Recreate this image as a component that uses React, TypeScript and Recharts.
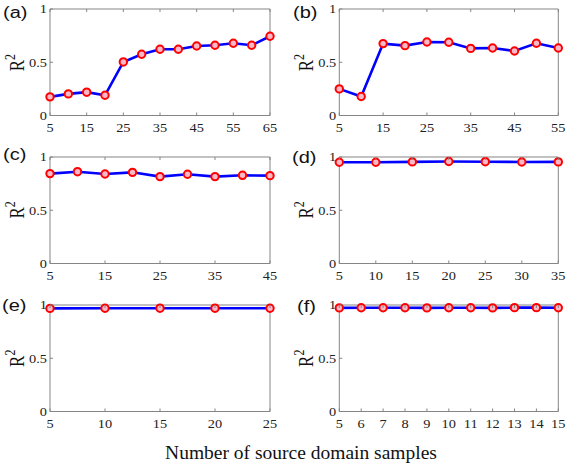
import React from 'react';
import { LineChart, Line, XAxis, YAxis } from 'recharts';

// ---------- data ----------
const aX = [5, 10, 15, 20, 25, 30, 35, 40, 45, 50, 55, 60, 65];
const aY = [0.175, 0.203, 0.219, 0.19, 0.503, 0.575, 0.622, 0.622, 0.653, 0.66, 0.678, 0.66, 0.744];
const aTicks = [5, 15, 25, 35, 45, 55, 65];

const bX = [5, 10, 15, 20, 25, 30, 35, 40, 45, 50, 55];
const bY = [0.25, 0.178, 0.675, 0.656, 0.69, 0.688, 0.63, 0.634, 0.606, 0.678, 0.634];
const bTicks = [5, 15, 25, 35, 45, 55];

const cX = [5, 10, 15, 20, 25, 30, 35, 40, 45];
const cY = [0.844, 0.862, 0.84, 0.856, 0.816, 0.838, 0.816, 0.828, 0.825];
const cTicks = [5, 15, 25, 35, 45];

const dX = [5, 10, 15, 20, 25, 30, 35];
const dY = [0.951, 0.951, 0.954, 0.958, 0.956, 0.953, 0.954];
const dTicks = [5, 10, 15, 20, 25, 30, 35];

const eX = [5, 10, 15, 20, 25];
const eY = [0.968, 0.969, 0.97, 0.97, 0.969];
const eTicks = [5, 10, 15, 20, 25];

const fX = [5, 6, 7, 8, 9, 10, 11, 12, 13, 14, 15];
const fY = [0.973, 0.974, 0.974, 0.974, 0.973, 0.974, 0.974, 0.973, 0.975, 0.975, 0.974];
const fTicks = [5, 6, 7, 8, 9, 10, 11, 12, 13, 14, 15];

const yTicks = [0, 0.5, 1];
const yTickLabels = ['0', '0.5', '1'];

const panelLabels = ['(a)', '(b)', '(c)', '(d)', '(e)', '(f)'];
const yAxisTitle = 'R';
const yAxisTitleSup = '2';
const xAxisTitle = 'Number of source domain samples';

// ---------- style ----------
const FRAME = '#858585';
const SERIF = "'Liberation Serif', 'Times New Roman', serif";
const SANS = "'Liberation Sans', Arial, sans-serif";
const SX = 1.15;
const TICK = 3;

const BottomTick = (props: any) => {
  const { x, y, payload } = props;
  return (
    <g>
      <line x1={x} x2={x} y1={y} y2={y - TICK} stroke={FRAME} strokeWidth={1} />
      <text
        transform={`translate(${x},${y + 16}) scale(${SX},1)`}
        textAnchor="middle"
        fontFamily={SERIF}
        fontSize={12.5}
        fill="#222"
      >
        {payload.value}
      </text>
    </g>
  );
};

const TopTick = (props: any) => {
  const { x, y } = props;
  return <line x1={x} x2={x} y1={y} y2={y + TICK} stroke={FRAME} strokeWidth={1} />;
};

const LeftTick = (props: any) => {
  const { x, y, payload } = props;
  const idx = yTicks.indexOf(payload.value);
  const label = idx >= 0 ? yTickLabels[idx] : String(payload.value);
  return (
    <g>
      <line x1={x} x2={x + TICK} y1={y} y2={y} stroke={FRAME} strokeWidth={1} />
      <text
        transform={`translate(${x - 3},${y + 4.3}) scale(${SX},1)`}
        textAnchor="end"
        fontFamily={SERIF}
        fontSize={12.5}
        fill="#222"
      >
        {label}
      </text>
    </g>
  );
};

const RightTick = (props: any) => {
  const { x, y } = props;
  return <line x1={x} x2={x - TICK} y1={y} y2={y} stroke={FRAME} strokeWidth={1} />;
};

type PanelProps = {
  left: number;
  top: number;
  width: number;
  mLeft: number;
  mRight: number;
  xs: number[];
  ys: number[];
  xTicks: number[];
};

function Panel({ left, top, width, mLeft, mRight, xs, ys, xTicks }: PanelProps) {
  const data = xs.map((x, i) => ({ x, y: ys[i] }));
  const xDomain = [xTicks[0], xTicks[xTicks.length - 1]];
  return (
    <div style={{ position: 'absolute', left, top }}>
      <LineChart
        width={width}
        height={140}
        data={data}
        margin={{ top: 8, right: mRight, bottom: 0.5, left: mLeft }}
      >
        <XAxis
          xAxisId="b"
          dataKey="x"
          type="number"
          domain={xDomain}
          ticks={xTicks}
          interval={0}
          height={24}
          tickSize={0}
          tickMargin={0}
          tickLine={false}
          axisLine={{ stroke: FRAME, strokeWidth: 1 }}
          tick={<BottomTick />}
        />
        <XAxis
          xAxisId="t"
          orientation="top"
          dataKey="x"
          type="number"
          domain={xDomain}
          ticks={xTicks}
          interval={0}
          height={1}
          tickSize={0}
          tickMargin={0}
          tickLine={false}
          axisLine={{ stroke: FRAME, strokeWidth: 1 }}
          tick={<TopTick />}
        />
        <YAxis
          yAxisId="l"
          type="number"
          domain={[0, 1]}
          ticks={yTicks}
          interval={0}
          width={40}
          tickSize={0}
          tickMargin={0}
          tickLine={false}
          axisLine={{ stroke: FRAME, strokeWidth: 1 }}
          tick={<LeftTick />}
        />
        <YAxis
          yAxisId="r"
          orientation="right"
          type="number"
          domain={[0, 1]}
          ticks={yTicks}
          interval={0}
          width={1}
          tickSize={0}
          tickMargin={0}
          tickLine={false}
          axisLine={{ stroke: FRAME, strokeWidth: 1 }}
          tick={<RightTick />}
        />
        <Line
          xAxisId="b"
          yAxisId="l"
          type="linear"
          dataKey="y"
          stroke="#0000ff"
          strokeWidth={2.6}
          dot={{ r: 3.7, fill: '#f9b9c8', stroke: '#ff0000', strokeWidth: 2 }}
          activeDot={false}
          isAnimationActive={false}
        />
      </LineChart>
    </div>
  );
}

// plot geometry
const LEFT_COL = { left: 0, width: 285, mLeft: 10, mRight: 14, plotLeft: 50 };
const RIGHT_COL = { left: 290, width: 277, mLeft: 9.3, mRight: 7.7, plotLeft: 339.3 };
const ROW_TOPS = [9.3, 156.7, 305];
const PLOT_H = 106.5;

const labelPos = [
  { x: 3, y: 18.3 },
  { x: 293, y: 18.3 },
  { x: 3, y: 160 },
  { x: 292, y: 163 },
  { x: 2, y: 311 },
  { x: 297, y: 312 },
];

export default function App() {
  const panels = [
    { col: LEFT_COL, row: 0, xs: aX, ys: aY, ticks: aTicks },
    { col: RIGHT_COL, row: 0, xs: bX, ys: bY, ticks: bTicks },
    { col: LEFT_COL, row: 1, xs: cX, ys: cY, ticks: cTicks },
    { col: RIGHT_COL, row: 1, xs: dX, ys: dY, ticks: dTicks },
    { col: LEFT_COL, row: 2, xs: eX, ys: eY, ticks: eTicks },
    { col: RIGHT_COL, row: 2, xs: fX, ys: fY, ticks: fTicks },
  ];
  return (
    <div
      style={{
        position: 'absolute',
        left: 0,
        top: 0,
        width: 567,
        height: 467,
        background: '#fff',
        overflow: 'hidden',
      }}
    >
      {panels.map((p, i) => (
        <Panel
          key={i}
          left={p.col.left}
          top={ROW_TOPS[p.row] - 9}
          width={p.col.width}
          mLeft={p.col.mLeft}
          mRight={p.col.mRight}
          xs={p.xs}
          ys={p.ys}
          xTicks={p.ticks}
        />
      ))}
      <svg
        width={567}
        height={467}
        style={{ position: 'absolute', left: 0, top: 0, pointerEvents: 'none' }}
      >
        {panels.map((p, i) => (
          <text
            key={'l' + i}
            transform={`translate(${labelPos[i].x},${labelPos[i].y}) scale(1.25,1)`}
            fontFamily={SANS}
            fontSize={16}
            fill="#111"
          >
            {panelLabels[i]}
          </text>
        ))}
        {panels.map((p, i) => (
          <text
            key={'r' + i}
            transform={`translate(${p.col.plotLeft - 26},${ROW_TOPS[p.row] + PLOT_H / 2}) scale(1.2,1) rotate(-90)`}
            textAnchor="middle"
            fontFamily={SERIF}
            fontSize={17}
            fill="#111"
          >
            {yAxisTitle}
            <tspan dy={-7.5} fontSize={12}>
              {yAxisTitleSup}
            </tspan>
          </text>
        ))}
        <text
          x={301}
          y={459}
          textAnchor="middle"
          fontFamily={SERIF}
          fontSize={19.5}
          fill="#111"
        >
          {xAxisTitle}
        </text>
      </svg>
    </div>
  );
}
